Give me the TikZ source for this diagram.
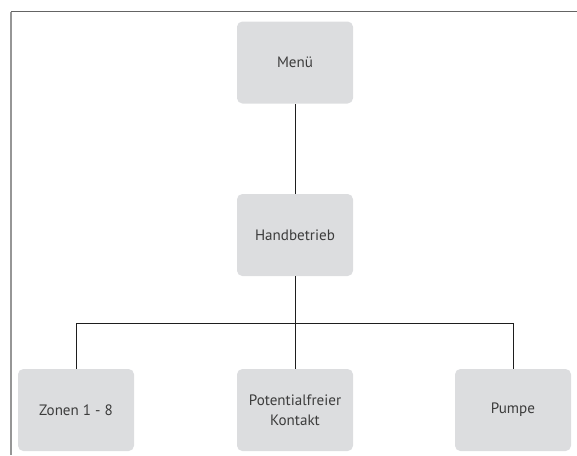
\documentclass[tikz,border=0pt]{standalone}
\usepackage{fontspec}
\setmainfont{PT Sans}
\usepackage{tikz}

\tikzset{
  box/.style={fill={rgb, 255:red, 220; green, 221; blue, 223 }, rounded corners=4pt, minimum width=87pt, minimum height=61.5pt, align=center, text={rgb, 255:red, 60; green, 60; blue, 60 }, font=\fontsize{11.3}{15}\selectfont, inner sep=2pt},
  link/.style={color={rgb, 255:red, 30; green, 30; blue, 30 }, line width=0.75pt}
}

\begin{document}
\begin{tikzpicture}[x=0.75pt,y=0.75pt,yscale=-1,xscale=1]
\useasboundingbox (0,0) rectangle (577,455);

%Frame [top and left]
\draw [color={rgb, 255:red, 100; green, 100; blue, 100 }, line width=1pt] (577,11.5) -- (11,11.5) ;
\draw [color={rgb, 255:red, 150; green, 150; blue, 150 }, line width=1.1pt] (11,11.5) -- (11,455) ;

% Text Node
\node [box] (menu) at (295,62.5) {Menü};
% Text Node
\node [box] (hand) at (295,235) {Handbetrieb};
% Text Node
\node [box] (zonen) at (76,410) {Zonen 1 - 8};
% Text Node
\node [box] (kontakt) at (295,410) {Potentialfreier\\Kontakt};
% Text Node
\node [box] (pumpe) at (513,410) {Pumpe};

\coordinate (bus) at (295,323);

%Straight Lines
\draw [link] (menu) -- (hand) ;
\draw [link] (hand) -- (bus) ;
\draw [link] (zonen.north |- bus) -- (pumpe.north |- bus) ;
\draw [link] (zonen.north |- bus) -- (zonen) ;
\draw [link] (bus) -- (kontakt) ;
\draw [link] (pumpe.north |- bus) -- (pumpe) ;

\end{tikzpicture}
\end{document}
